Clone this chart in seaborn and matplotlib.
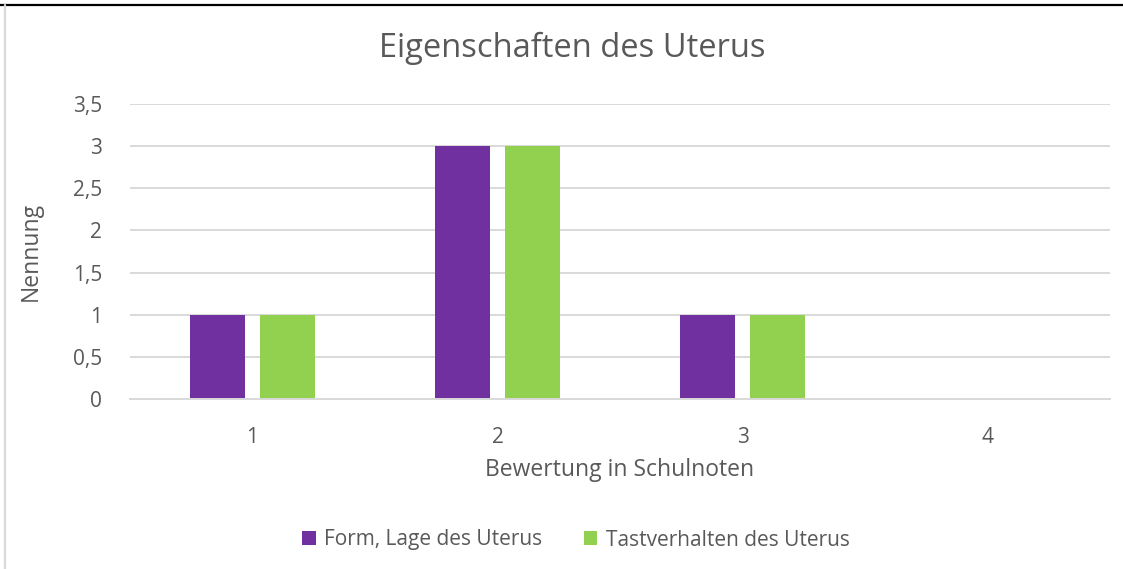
import matplotlib
matplotlib.use("Agg")
import matplotlib.pyplot as plt
from matplotlib.lines import Line2D
import seaborn as sns
import pandas as pd

# Ratings (school grades) and number of mentions per property
noten = ["1", "2", "3", "4"]
form_lage = [1, 3, 1, 0]
tastverhalten = [1, 3, 1, 0]
serien = ["Form, Lage des Uterus", "Tastverhalten des Uterus"]
y_ticks = [0, 0.5, 1, 1.5, 2, 2.5, 3, 3.5]
y_tick_labels = ["0", "0,5", "1", "1,5", "2", "2,5", "3", "3,5"]

df = pd.DataFrame({
    "Note": noten * 2,
    "Nennung": form_lage + tastverhalten,
    "Serie": [serien[0]] * len(noten) + [serien[1]] * len(noten),
})

sns.set_theme(style="white")
plt.rcParams["font.family"] = ["Open Sans", "DejaVu Sans"]
text_col = "#595959"
grid_col = "#d9d9d9"

W, H = 1123, 569
fig = plt.figure(figsize=(W / 100, H / 100), dpi=100)
ax = fig.add_axes([130 / W, (H - 399) / H, (1110 - 130) / W, (399 - 104) / H])

sns.barplot(data=df, x="Note", y="Nennung", hue="Serie", order=noten,
            hue_order=serien, palette=["#7030A0", "#92D050"],
            width=0.571, gap=0.216, saturation=1, linewidth=0,
            ax=ax, legend=True)

ax.set_xlim(-0.5, 3.5)
ax.set_ylim(0, 3.5)
ax.set_yticks(y_ticks)
ax.set_yticklabels(y_tick_labels)
ax.yaxis.grid(True, color=grid_col, linewidth=1.4)
ax.set_axisbelow(True)
for s in ["top", "right", "left"]:
    ax.spines[s].set_visible(False)
ax.spines["bottom"].set_color(grid_col)
ax.spines["bottom"].set_linewidth(1.4)
ax.tick_params(axis="both", length=0, labelsize=15, labelcolor=text_col)
ax.tick_params(axis="y", pad=20)
ax.tick_params(axis="x", pad=20)

ax.set_xlabel("Bewertung in Schulnoten", fontsize=16.5, color=text_col, labelpad=7)
ax.set_ylabel("Nennung", fontsize=16.5, color=text_col, labelpad=22)

fig.text(572 / W, 1 - 48 / H, "Eigenschaften des Uterus", ha="center",
         va="center", fontsize=23.5, color=text_col)

leg = ax.legend(loc="center", bbox_to_anchor=(576 / W, 1 - 540 / H),
                bbox_transform=fig.transFigure, ncol=2, frameon=False,
                fontsize=15, handlelength=0.65, handleheight=0.65,
                handletextpad=0.4, columnspacing=2.0)
for t in leg.get_texts():
    t.set_color(text_col)

# Frame lines along the top and left edges
fig.add_artist(Line2D([0, 1], [1 - 4.5 / H, 1 - 4.5 / H], color="black",
                      linewidth=1.6, transform=fig.transFigure))
fig.add_artist(Line2D([5 / W, 5 / W], [0, 1 - 5 / H], color="#d9d9d9",
                      linewidth=1.6, transform=fig.transFigure))

fig.savefig("out.png", dpi=100)
